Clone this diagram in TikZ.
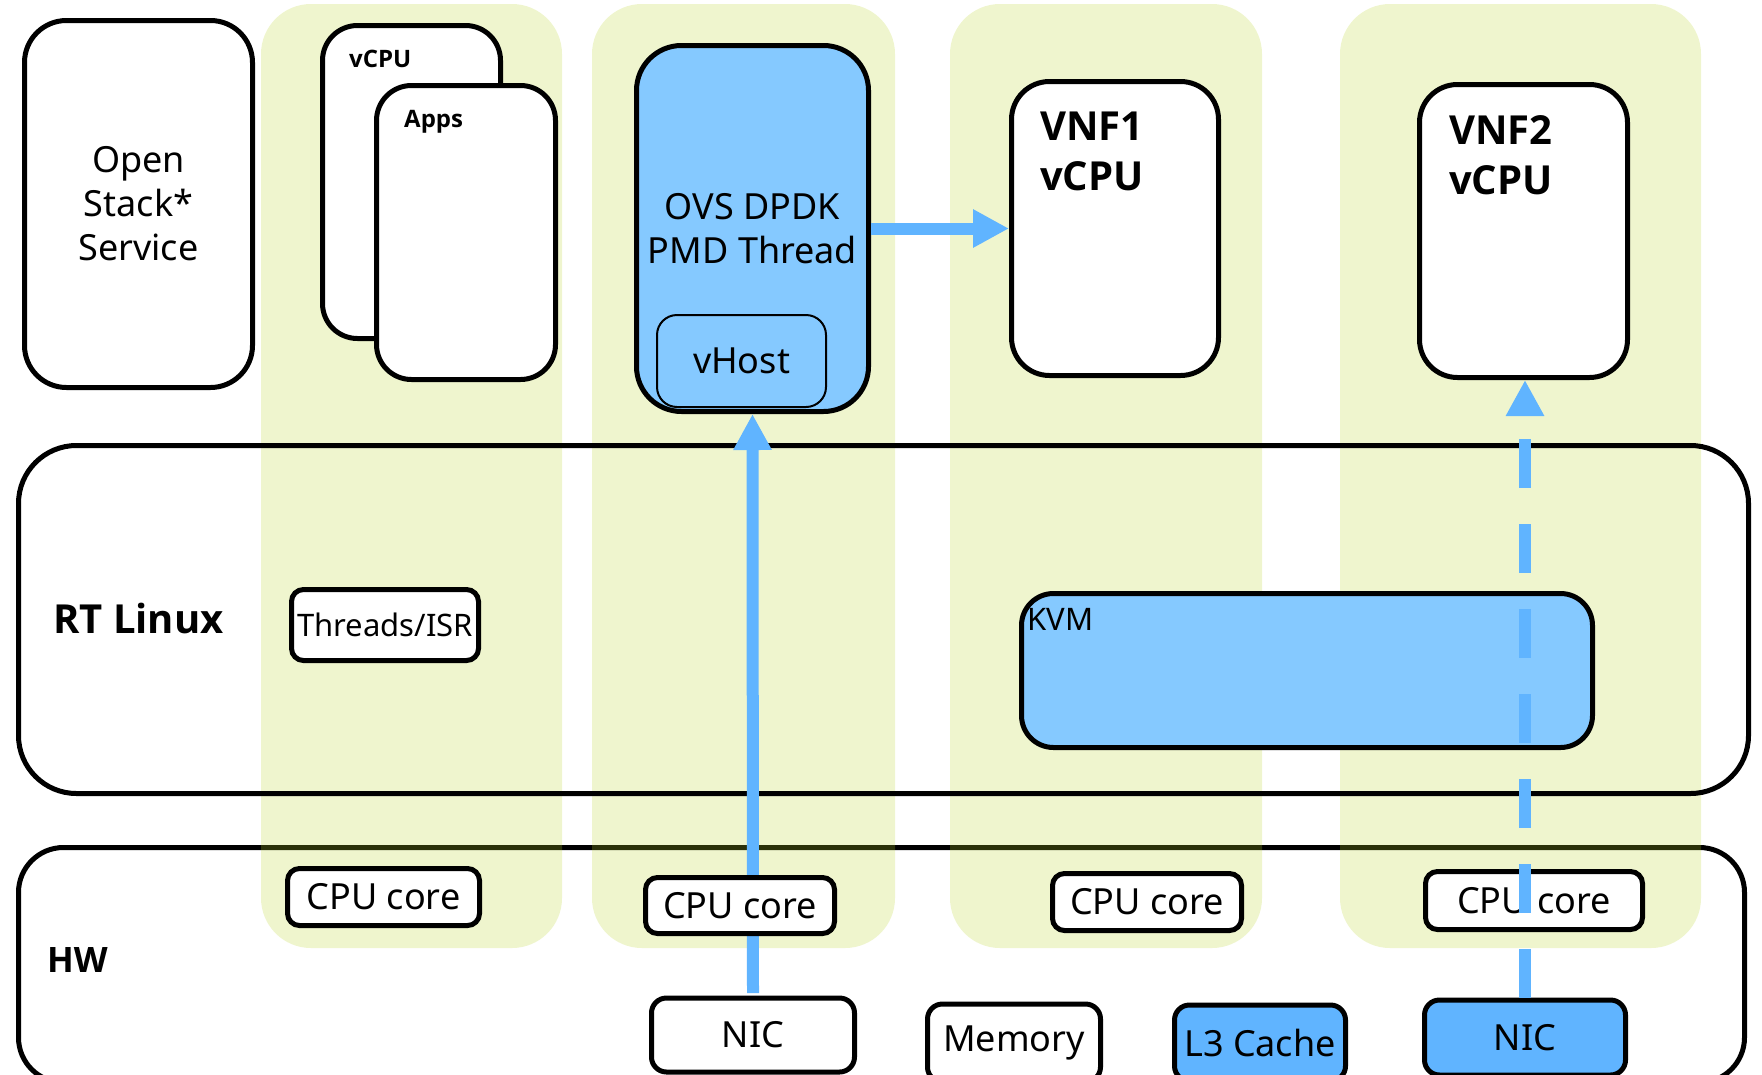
\documentclass[tikz,border=0pt]{standalone}
\usepackage{fontspec}
\setmainfont{Noto Sans}[BoldFont={Open Sans Bold}]
\usetikzlibrary{arrows.meta,positioning}

\definecolor{coregreen}{RGB}{187,213,43}
\definecolor{pmdblue}{RGB}{133,201,255}
\definecolor{flowblue}{RGB}{96,180,255}

\tikzset{
  box/.style={draw, line width=5pt, fill=white, rounded corners=12pt, inner sep=0pt, align=center,
    font=\fontsize{36}{44}\selectfont},
  tier/.style={draw, line width=5pt, inner sep=0pt},
  lane/.style={fill=coregreen, fill opacity=0.23, rounded corners=50pt},
  tag/.style={anchor=north west, inner sep=0pt, align=left},
  smalltag/.style={tag, font=\fontsize{24}{28}\selectfont\bfseries},
  bigtag/.style={tag, font=\fontsize{40}{50}\selectfont\bfseries},
  kvmtag/.style={tag, font=\fontsize{31}{37}\selectfont},
  flow/.style={line width=12pt, flowblue, -{Triangle[length=36pt,width=36pt]}},
}

\begin{document}
\begin{tikzpicture}[x=1pt,y=-1pt]
  \useasboundingbox (0,0) rectangle (1762,1074);
  \clip (0,0) rectangle (1762,1074);

  % hardware tier, then the per-core lanes, then the kernel tier
  \node[tier, fill=white, rounded corners=45pt, minimum width=1726pt, minimum height=235pt] (hw) at (881.5,965) {};
  \foreach \l/\r in {261/562, 592/895, 950/1262, 1340/1701}
    \fill[lane] (\l,4) rectangle (\r,948);
  \node[tier, rounded corners=58pt, minimum width=1730pt, minimum height=348pt] (rtlinux) at (883.5,619.5) {};

  \node[anchor=base west, inner sep=0pt, font=\fontsize{40}{46}\selectfont\bfseries] (rtlabel) at (53,633) {RT Linux};
  \node[anchor=base west, inner sep=0pt, font=\fontsize{35}{40}\selectfont\bfseries] (hwlabel) at (47,972) {HW};

  % user space
  \node[box, rounded corners=42pt, minimum width=228pt, minimum height=367pt] (openstack) at (138.5,204) {Open\\Stack*\\Service};
  \node[box, rounded corners=35pt, minimum width=178pt, minimum height=313pt] (vcpu) at (411.5,182) {};
  \node[smalltag] (vcputag) at (349,50) {vCPU};
  \node[box, rounded corners=35pt, minimum width=179pt, minimum height=294pt] (apps) at (466,232.5) {};
  \node[smalltag] (appstag) at (404,110) {Apps};

  \node[box, fill=pmdblue, rounded corners=45pt, minimum width=232pt, minimum height=366pt] (ovs) at (752.5,228.5) {OVS DPDK\\PMD Thread};
  \node[box, fill=pmdblue, line width=2pt, rounded corners=20pt, minimum width=169pt, minimum height=92pt] (vhost) at (741.5,361) {vHost};

  \node[box, rounded corners=38pt, minimum width=207pt, minimum height=294pt] (vnf1) at (1115,228.5) {};
  \node[bigtag] (vnf1tag) at (1040,112) {VNF1\\vCPU};
  \node[box, rounded corners=38pt, minimum width=208pt, minimum height=293pt] (vnf2) at (1523.5,231) {};
  \node[bigtag] (vnf2tag) at (1449,115) {VNF2\\vCPU};

  % kernel
  \node[box, font=\fontsize{31}{37}\selectfont, minimum width=187pt, minimum height=71pt] (threads) at (385,625) {Threads/ISR};
  \node[box, fill=pmdblue, rounded corners=32pt, minimum width=571pt, minimum height=154pt] (kvm) at (1307,670.5) {};
  \node[kvmtag] (kvmtag) at (1027,608) {KVM};

  % hardware
  \node[box, rounded corners=15pt, minimum width=203pt, minimum height=74pt] (nic1) at (753,1035) {NIC};
  \draw[flow, shorten <=2.5pt] (nic1.north) -- (ovs.south);
  \draw[flow] (ovs.east) -- (vnf1.west);

  \node[box, minimum width=192pt, minimum height=57pt] (cpu1) at (383.5,897) {CPU core};
  \node[box, minimum width=189pt, minimum height=56pt] (cpu2) at (740,905.5) {CPU core};
  \node[box, minimum width=189pt, minimum height=57pt] (cpu3) at (1147,902) {CPU core};
  \node[box, minimum width=217pt, minimum height=58pt] (cpu4) at (1534,900.5) {CPU core};
  \node[box, rounded corners=15pt, minimum width=173pt, minimum height=78pt] (memory) at (1014,1043) {Memory};
  \node[box, fill=flowblue, rounded corners=15pt, minimum width=171pt, minimum height=76pt] (l3) at (1260,1043) {L3 Cache};
  \node[box, fill=flowblue, rounded corners=15pt, minimum width=201pt, minimum height=75pt] (nic2) at (1525,1037.5) {NIC};

  \draw[flow, dash pattern=on 48.5pt off 36.5pt] (nic2.north) -- (nic2.north |- vnf2.south);
\end{tikzpicture}
\end{document}
